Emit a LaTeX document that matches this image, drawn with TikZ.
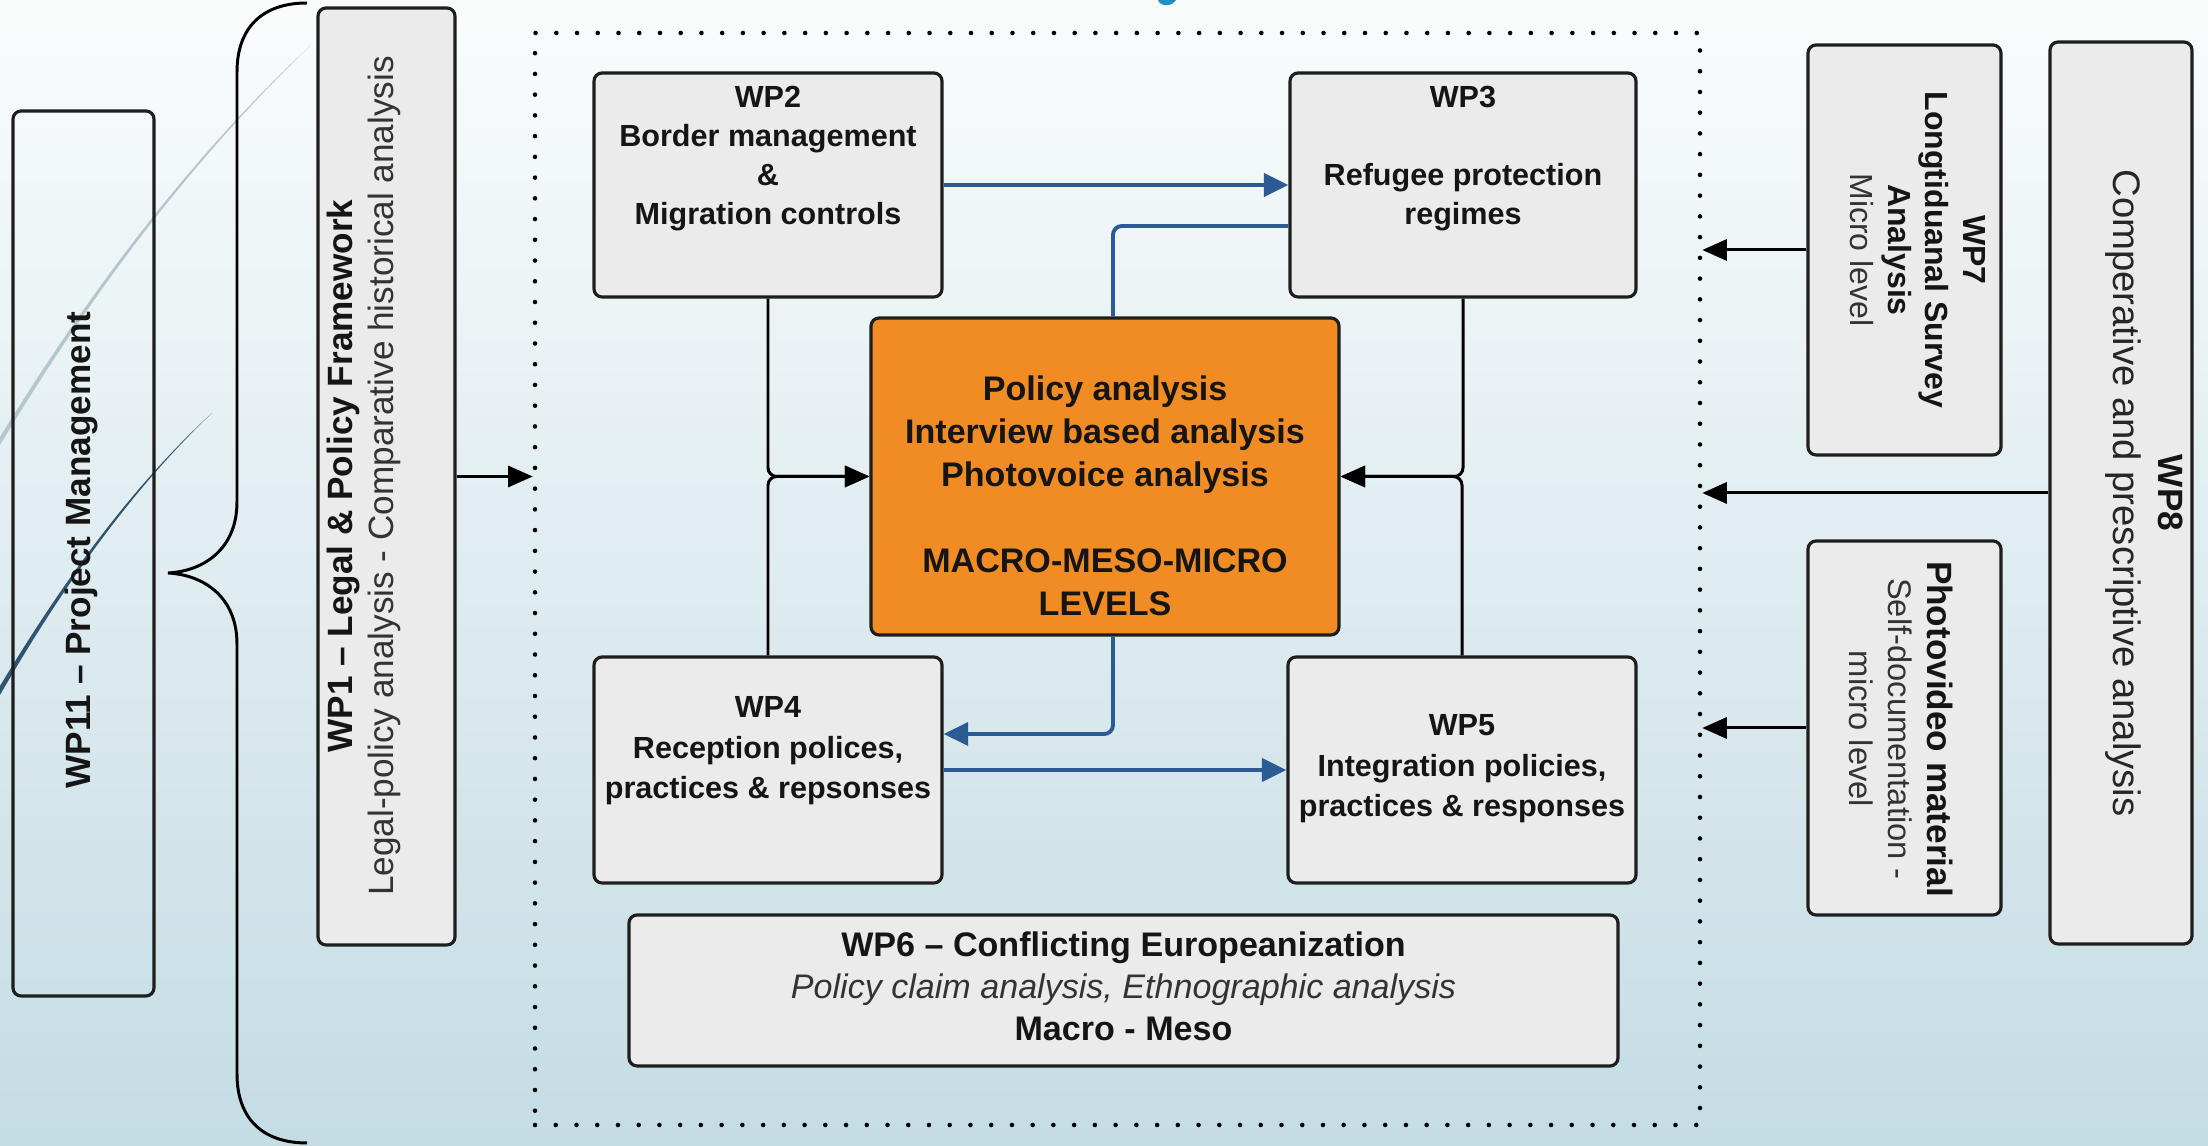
\documentclass[tikz,border=0pt]{standalone}
\usepackage{fontspec}
\setmainfont{Liberation Sans}
\usetikzlibrary{arrows.meta,calc}
\definecolor{bgtop}{HTML}{FAFCFC}
\definecolor{bgbot}{HTML}{C4DCE4}
\definecolor{boxfill}{HTML}{EBEBEB}
\definecolor{boxline}{HTML}{1E1E1E}
\definecolor{orangefill}{HTML}{F08C23}
\definecolor{linkblue}{HTML}{2C5A95}
\definecolor{curvelight}{HTML}{B4C6CE}
\definecolor{curvedark}{HTML}{2F5573}
\definecolor{titleblue}{HTML}{1F8FC6}
\definecolor{textdark}{HTML}{151515}
\begin{document}
\begin{tikzpicture}[x=0.1mm,y=-0.1mm,
  wpbox/.style={draw=boxline, line width=0.9pt, fill=boxfill, rounded corners=2.3pt, inner sep=0pt},
  hollowbox/.style={draw=boxline, line width=0.9pt, rounded corners=2.3pt, inner sep=0pt},
  corebox/.style={draw=boxline, line width=0.9pt, fill=orangefill, rounded corners=2.3pt, inner sep=0pt},
  lbl/.style={align=center, inner sep=0pt, text=textdark},
  wplbl/.style={lbl, font=\bfseries\fontsize{8.7pt}{11.1pt}\selectfont},
  blkarrow/.style={draw=black, line width=0.85pt, -{Triangle[length=7pt,width=6pt]}},
  blkline/.style={draw=black, line width=0.85pt, rounded corners=2.5pt},
  bluethick/.style={draw=linkblue, line width=1.4pt, -{Triangle[length=7pt,width=6.5pt]}},
  bluefeed/.style={draw=linkblue, line width=1.1pt, rounded corners=2.5pt},
  dotframe/.style={draw=black, line width=1.3pt, dash pattern=on 0pt off 5.9pt, line cap=round, inner sep=0pt}
]
\useasboundingbox (0,0) rectangle (2208,1146);
\shade[top color=bgtop, bottom color=bgbot] (0,0) rectangle (2208,1146);

% background swooshes
\fill[curvelight] (0,437) .. controls (80,307) and (180,167) .. (311,45)
   .. controls (180,171) and (80,312) .. (0,445) -- cycle;
\fill[curvedark] (0,686) .. controls (60,586) and (130,488) .. (212,413)
   .. controls (130,491) and (60,591) .. (0,695) -- cycle;
% fragment of clipped title
\fill[titleblue] (1158,0) .. controls (1160,7) and (1172,7) .. (1176,0) -- cycle;

% left side
\node[hollowbox, minimum width=14.1mm, minimum height=88.5mm] (wp11) at (83.5,553.5) {};
\node[lbl, rotate=90, font=\bfseries\fontsize{10pt}{12pt}\selectfont] (wp11t) at (81,550) {WP11 -- Project Management};

\draw[line width=0.85pt] (307,3) .. controls (262,3) and (237,28) .. (237,72) -- (237,502)
  .. controls (237,548) and (205,571) .. (168,573)
  .. controls (205,575) and (237,598) .. (237,644) -- (237,1074)
  .. controls (237,1118) and (262,1143) .. (307,1143);

\node[wpbox, minimum width=13.7mm, minimum height=93.7mm] (wp1) at (386.5,476.5) {};
\node[lbl, rotate=90, font=\fontsize{10pt}{11.7pt}\selectfont] (wp1t) at (364,476)
  {{\bfseries WP1 -- Legal \& Policy Framework}\\{\color{black!80}Legal-policy analysis - Comparative historical analysis}};

% dotted frame
\node[dotframe, minimum width=116.5mm, minimum height=109.2mm] (frame) at (1117.5,579) {};

% inner boxes
\node[wpbox, minimum width=34.8mm, minimum height=22.4mm] (wp2) at (768,185) {};
\node[wplbl] (wp2t) at (768,159) {WP2\\Border management\\\&\\Migration controls};

\node[wpbox, minimum width=34.6mm, minimum height=22.4mm] (wp3) at (1463,185) {};
\node[wplbl] (wp3t) at (1463,159) {WP3\\[11.1pt]Refugee protection\\regimes};

\node[corebox, minimum width=46.8mm, minimum height=31.7mm] (core) at (1105,476.5) {};
\node[lbl, font=\bfseries\fontsize{9.7pt}{12.2pt}\selectfont] (coret) at (1105,496)
  {Policy analysis\\Interview based analysis\\Photovoice analysis\\[12.2pt]MACRO-MESO-MICRO\\LEVELS};

\node[wpbox, minimum width=34.8mm, minimum height=22.6mm] (wp4) at (768,770) {};
\node[wplbl, font=\bfseries\fontsize{8.7pt}{11.5pt}\selectfont] (wp4t) at (768,751) {WP4\\Reception polices,\\practices \& repsonses};

\node[wpbox, minimum width=34.8mm, minimum height=22.6mm] (wp5) at (1462,770) {};
\node[wplbl, font=\bfseries\fontsize{8.7pt}{11.5pt}\selectfont] (wp5t) at (1462,769) {WP5\\Integration policies,\\practices \& responses};

\node[wpbox, minimum width=98.9mm, minimum height=15.1mm] (wp6) at (1123.5,990.5) {};
\node[lbl, font=\fontsize{9.7pt}{12pt}\selectfont] (wp6t) at (1123.5,986)
  {{\bfseries WP6 -- Conflicting Europeanization}\\{\itshape\color{black!80}Policy claim analysis, Ethnographic analysis}\\{\bfseries Macro - Meso}};

% right side
\node[wpbox, minimum width=19.3mm, minimum height=41mm] (wp7) at (1904.5,250) {};
\node[lbl, rotate=-90, font=\fontsize{9.1pt}{10.7pt}\selectfont] (wp7t) at (1918,250)
  {{\bfseries WP7}\\{\bfseries Longtiduanal Survey}\\{\bfseries Analysis}\\{\color{black!80}Micro level}};

\node[wpbox, minimum width=19.3mm, minimum height=37.4mm] (pv) at (1904.5,728) {};
\node[lbl, rotate=-90, font=\fontsize{9.3pt}{11pt}\selectfont] (pvt) at (1901,729)
  {{\bfseries\fontsize{10pt}{11pt}\selectfont Photovideo material}\\{\color{black!80}Self-documentation -}\\{\color{black!80}micro level}};

\node[wpbox, minimum width=14.2mm, minimum height=90.2mm] (wp8) at (2121,493) {};
\node[lbl, rotate=-90, font=\fontsize{10.9pt}{12.8pt}\selectfont] (wp8t) at (2144,493)
  {{\bfseries\fontsize{10pt}{12.8pt}\selectfont WP8}\\{\color{black!85}Comperative and prescriptive analysis}};

% connectors into the frame
\draw[blkarrow] (wp1.east) -- (wp1.east -| frame.west);
\draw[blkarrow] (wp7.west) -- (wp7.west -| frame.east);
\draw[blkarrow] (wp8.west) -- (wp8.west -| frame.east);
\draw[blkarrow] (pv.west) -- (pv.west -| frame.east);

% black connectors to the core
\draw[blkline, -{Triangle[length=7pt,width=6pt]}] (wp2.south) |- (core.west);
\draw[blkline, -{Triangle[length=7pt,width=6pt]}] (wp4.north) |- (core.west);
\draw[blkline, -{Triangle[length=7pt,width=6pt]}] (wp3.south) |- (core.east);
\draw[blkline, -{Triangle[length=7pt,width=6pt]}] (wp5.north) |- (core.east);

% blue connectors
\draw[bluethick] (wp2.east) -- (wp3.west);
\draw[bluethick] (wp4.east) -- (wp5.west);
\draw[bluefeed] ($(wp3.west)+(0,41)$) -| ($(core.north)+(8,0)$);
\draw[bluefeed, -{Triangle[length=7pt,width=6.5pt]}] ($(core.south)+(8,0)$) |- ($(wp4.east)+(0,-36)$);
\end{tikzpicture}
\end{document}
